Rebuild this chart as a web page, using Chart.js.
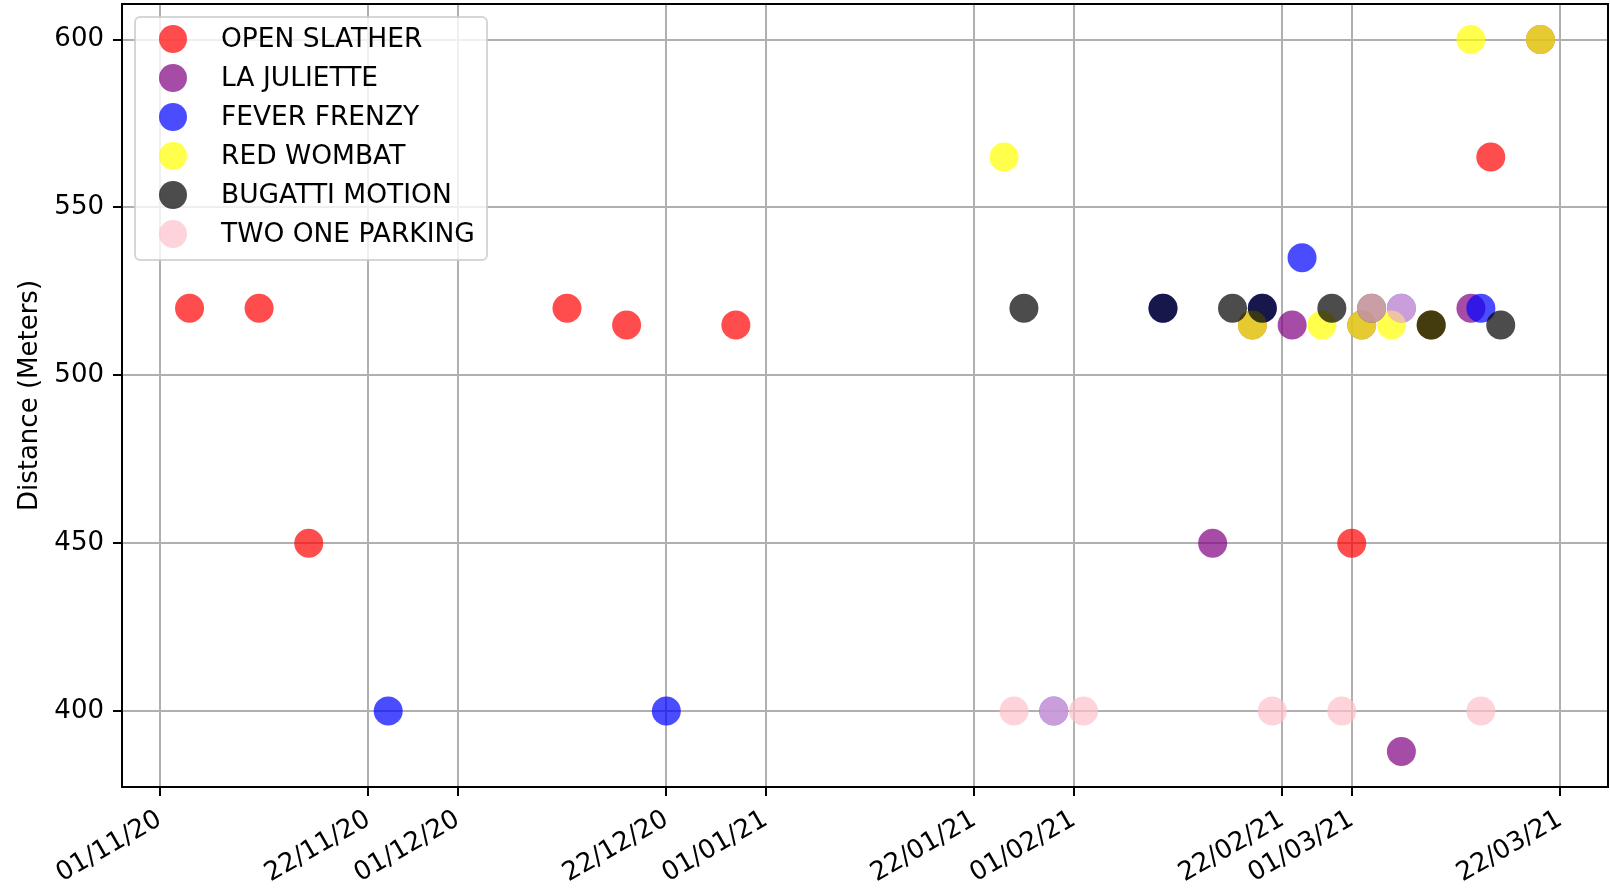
<!DOCTYPE html>
<html lang="en">
<head>
  <meta charset="UTF-8">
  <title>Distance by date</title>
  <script src="https://cdn.jsdelivr.net/npm/chart.js"></script>
  <style>
    body {
      margin: 0;
      padding: 0;
      background-color: white;
    }
    .chart-container {
      position: relative;
      width: 1610px;
      height: 891px;
    }
  </style>
</head>
<body>
  <div class="chart-container">
    <canvas id="distance-chart"></canvas>
  </div>

  <script>
    // Horse names (series) and their colours
    const seriesNames = ['OPEN SLATHER', 'LA JULIETTE', 'FEVER FRENZY', 'RED WOMBAT', 'BUGATTI MOTION', 'TWO ONE PARKING'];
    const seriesColors = ['rgba(255, 0, 0, 0.7)', 'rgba(128, 0, 128, 0.7)', 'rgba(0, 0, 255, 0.7)', 'rgba(255, 255, 0, 0.7)', 'rgba(0, 0, 0, 0.7)', 'rgba(255, 192, 203, 0.7)'];

    // Race dates and distances (meters)
    const openSlatherDates = ['2020-11-04', '2020-11-11', '2020-11-16', '2020-12-12', '2020-12-18', '2020-12-29', '2021-03-01', '2021-03-15'];
    const openSlatherDist = [520, 520, 450, 520, 515, 515, 450, 565];

    const laJulietteDates = ['2021-02-15', '2021-02-19', '2021-02-23', '2021-03-02', '2021-03-06', '2021-03-09', '2021-03-13', '2021-03-20'];
    const laJulietteDist = [450, 515, 515, 515, 388, 515, 520, 600];

    const feverFrenzyDates = ['2020-11-24', '2020-12-22', '2021-01-30', '2021-02-10', '2021-02-20', '2021-02-24', '2021-03-06', '2021-03-14'];
    const feverFrenzyDist = [400, 400, 400, 520, 520, 535, 520, 520];

    const redWombatDates = ['2021-01-25', '2021-02-19', '2021-02-26', '2021-03-02', '2021-03-05', '2021-03-09', '2021-03-13', '2021-03-20'];
    const redWombatDist = [565, 515, 515, 515, 515, 515, 600, 600];

    const bugattiDates = ['2021-01-27', '2021-02-10', '2021-02-17', '2021-02-20', '2021-02-27', '2021-03-03', '2021-03-09', '2021-03-16'];
    const bugattiDist = [520, 520, 520, 520, 520, 520, 515, 515];

    const twoOneDates = ['2021-01-26', '2021-01-30', '2021-02-02', '2021-02-21', '2021-02-28', '2021-03-03', '2021-03-06', '2021-03-14'];
    const twoOneDist = [400, 400, 400, 400, 400, 520, 520, 400];

    // Axis ticks
    const xTickDates = ['2020-11-01', '2020-11-22', '2020-12-01', '2020-12-22', '2021-01-01', '2021-01-22', '2021-02-01', '2021-02-22', '2021-03-01', '2021-03-22'];
    const yTickValues = [400, 450, 500, 550, 600];

    const allDates = [openSlatherDates, laJulietteDates, feverFrenzyDates, redWombatDates, bugattiDates, twoOneDates];
    const allDist = [openSlatherDist, laJulietteDist, feverFrenzyDist, redWombatDist, bugattiDist, twoOneDist];

    const toMs = d => new Date(d).getTime();

    function formatDate(ms) {
      const d = new Date(ms);
      const dd = String(d.getUTCDate()).padStart(2, '0');
      const mm = String(d.getUTCMonth() + 1).padStart(2, '0');
      const yy = String(d.getUTCFullYear()).slice(2);
      return `${dd}/${mm}/${yy}`;
    }

    // Axis limits with a 5% margin, like matplotlib
    const xs = allDates.flat().map(toMs);
    const ys = allDist.flat();
    const xMin = Math.min(...xs), xMax = Math.max(...xs);
    const yMin = Math.min(...ys), yMax = Math.max(...ys);
    const xPad = (xMax - xMin) * 0.05;
    const yPad = (yMax - yMin) * 0.05;

    const FONT = "'DejaVu Sans', sans-serif";

    // later series are drawn on top (matplotlib order)
    const datasets = seriesNames.map((name, i) => ({
      label: name,
      data: allDates[i].map((d, j) => ({ x: toMs(d), y: allDist[i][j] })),
      backgroundColor: seriesColors[i],
      borderWidth: 0,
      pointRadius: 14.5,
      pointHoverRadius: 14.5,
      order: seriesNames.length - i
    }));

    // Framed legend in the upper left of the plot
    const boxLegend = {
      id: 'boxLegend',
      afterDraw(chart) {
        const ctx = chart.ctx;
        const x0 = 135, y0 = 17, w = 352, h = 243;
        ctx.save();
        ctx.beginPath();
        ctx.roundRect(x0, y0, w, h, 5);
        ctx.fillStyle = 'rgba(255, 255, 255, 0.8)';
        ctx.fill();
        ctx.lineWidth = 2;
        ctx.strokeStyle = 'rgba(204, 204, 204, 0.8)';
        ctx.stroke();
        ctx.font = `26.5px ${FONT}`;
        ctx.textBaseline = 'middle';
        chart.data.datasets.forEach((ds, i) => {
          const cy = 39 + i * 39;
          ctx.beginPath();
          ctx.arc(173, cy, 14, 0, Math.PI * 2);
          ctx.fillStyle = ds.backgroundColor;
          ctx.fill();
          ctx.fillStyle = 'black';
          ctx.fillText(ds.label, 221, cy + 1);
        });
        ctx.restore();
      }
    };

    // Full frame around the plot area
    const frame = {
      id: 'frame',
      afterDatasetsDraw(chart) {
        const a = chart.chartArea;
        const ctx = chart.ctx;
        ctx.save();
        ctx.lineWidth = 2;
        ctx.strokeStyle = 'black';
        ctx.strokeRect(a.left, a.top, a.right - a.left, a.bottom - a.top);
        ctx.restore();
      }
    };

    // keep the plot area fixed: no extra room for label overhang
    function noPadding(scale) {
      scale.paddingLeft = 0;
      scale.paddingRight = 0;
      scale.paddingTop = 0;
      scale.paddingBottom = 0;
    }

    const ctx = document.getElementById('distance-chart').getContext('2d');
    const chart = new Chart(ctx, {
      type: 'scatter',
      data: { datasets },
      options: {
        responsive: true,
        maintainAspectRatio: false,
        animation: false,
        devicePixelRatio: 1,
        layout: { autoPadding: false, padding: { top: 4, right: 2, left: 0, bottom: 0 } },
        plugins: {
          legend: { display: false },
          tooltip: { enabled: false }
        },
        scales: {
          x: {
            type: 'linear',
            z: 1,
            min: xMin - xPad,
            max: xMax + xPad,
            afterFit: scale => { scale.height = 104; noPadding(scale); },
            afterBuildTicks: scale => {
              scale.ticks = xTickDates.map(d => ({ value: toMs(d) }));
            },
            grid: { color: '#b0b0b0', lineWidth: 2, tickColor: 'black', tickWidth: 2, tickLength: 9 },
            border: { display: false },
            ticks: {
              autoSkip: false,
              minRotation: 30,
              maxRotation: 30,
              padding: 8,
              color: 'black',
              font: { family: FONT, size: 26 },
              callback: value => formatDate(value)
            }
          },
          y: {
            z: 1,
            min: yMin - yPad,
            max: yMax + yPad,
            afterFit: scale => { scale.width = 122; noPadding(scale); },
            afterBuildTicks: scale => {
              scale.ticks = yTickValues.map(v => ({ value: v }));
            },
            grid: { color: '#b0b0b0', lineWidth: 2, tickColor: 'black', tickWidth: 2, tickLength: 9 },
            border: { display: false },
            title: {
              display: true,
              text: 'Distance (Meters)',
              color: 'black',
              font: { family: FONT, size: 26 },
              padding: { top: 15, bottom: 0 }
            },
            ticks: {
              padding: 9,
              color: 'black',
              font: { family: FONT, size: 26 },
              callback: value => String(value)
            }
          }
        }
      },
      plugins: [frame, boxLegend]
    });
  </script>
</body>
</html>
